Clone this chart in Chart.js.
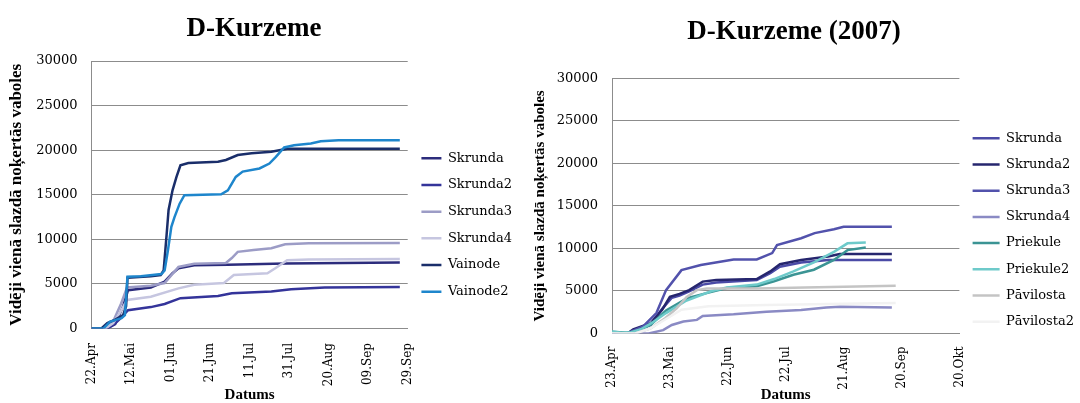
<!DOCTYPE html>
<html>
<head>
<meta charset="utf-8">
<script src="https://cdn.jsdelivr.net/npm/chart.js@4.4.1/dist/chart.umd.min.js"></script>
<style>
  body { margin: 0; background: #fff; }
  #wrap { position: relative; width: 1080px; height: 403px; overflow: hidden; }
  canvas { position: absolute; top: 0; }
  #leftChart { left: -14px; }
  #rightChart { left: 504px; }
</style>
</head>
<body>
<div id="wrap">
  <canvas id="leftChart" width="554" height="403"></canvas>
  <canvas id="rightChart" width="580" height="403"></canvas>
</div>
<script>
// x values are days from the first date on each axis, y = beetles per trap
const yTitle = "Vidēji vienā slazdā noķertās vaboles";

// left chart: D-Kurzeme (from 22.Apr)
const leftTickLabels = ["22.Apr", "12.Mai", "01.Jun", "21.Jun", "11.Jul", "31.Jul", "20.Aug", "09.Sep", "29.Sep"];
const leftNames = ["Skrunda", "Skrunda2", "Skrunda3", "Skrunda4", "Vainode", "Vainode2"];

const lSkrunda = [[0,0],[8,0],[12,500],[16,2500],[18.5,4300],[30,4600],[37,5250],[41,6200],[44,6750],[52,7100],[69,7150],[98,7300],[156,7400]];
const lSkrunda2 = [[0,0],[8,0],[12,600],[14,1000],[18.5,2050],[30,2400],[37,2750],[45,3400],[64,3650],[71,3950],[91,4150],[101,4400],[118,4600],[156,4650]];
const lSkrunda3 = [[0,0],[7,0],[11,800],[15,2800],[18,4600],[30,4800],[37,5100],[44,6900],[52,7250],[68,7350],[71,7900],[74,8600],[82,8800],[91,9000],[98,9450],[110,9550],[156,9600]];
const lSkrunda4 = [[0,0],[7,0],[11,600],[15,2000],[18,3200],[30,3570],[44,4500],[52,4900],[67,5100],[72,6000],[89,6200],[93,6750],[99,7650],[110,7750],[156,7800]];
const lVainode = [[0,0],[5,0],[8,600],[12,1000],[16,1500],[17.5,2500],[18.2,5700],[30,5850],[35,6000],[36.5,6500],[38,10500],[39,13300],[41,15500],[43,17000],[45,18300],[49,18550],[64,18700],[68,18900],[74,19450],[81,19650],[91,19820],[99,20150],[156,20150]];
const lVainode2 = [[0,0],[6,0],[9.3,750],[12.7,1000],[15.2,1150],[16.9,1500],[18.2,5800],[25,5850],[35.4,6100],[37,6500],[38.7,8800],[40.4,11400],[42,12500],[44.6,14000],[47,14950],[65.6,15050],[69,15500],[73,17000],[76.5,17600],[85,17950],[90,18500],[93.3,19250],[97.5,20300],[102.5,20550],[111,20750],[116,21000],[125,21100],[156,21100]];

// right chart: D-Kurzeme (2007) (from 23.Apr)
const rightTickLabels = ["23.Apr", "23.Mai", "22.Jun", "22.Jul", "21.Aug", "20.Sep", "20.Okt"];
const rightNames = ["Skrunda", "Skrunda2", "Skrunda3", "Skrunda4", "Priekule", "Priekule2", "Pāvilosta", "Pāvilosta2"];

const rSkrunda = [[0,0],[8,0],[11,300],[20,1000],[26,2900],[31,4200],[35,4450],[40,4950],[47,5750],[54,6000],[75,6300],[82,7100],[87,7850],[98,8350],[112,8650],[145,8650]];
const rSkrunda2 = [[0,0],[8,0],[11,500],[20,1200],[26,2800],[30,4300],[35,4650],[40,5100],[47,6100],[54,6300],[75,6400],[82,7300],[87,8150],[98,8650],[112,9050],[118,9350],[145,9350]];
const rSkrunda3 = [[0,0],[7.5,0],[16,800],[23,2400],[28,5100],[36,7450],[46,8050],[63,8700],[75,8700],[83,9450],[85.5,10400],[98,11200],[105,11800],[115,12250],[120,12550],[145,12550]];
const rSkrunda4 = [[0,0],[19,0],[26.5,400],[31,1000],[37,1400],[44,1600],[47,2050],[63,2250],[80,2550],[98,2750],[111,3050],[118,3150],[145,3050]];
const rPriekule = [[0,200],[4,150],[9,100],[14,400],[20,1000],[28,2700],[39,4150],[49,4750],[59.5,5350],[75,5550],[84,6150],[94,6900],[104.6,7500],[115,8650],[122,9800],[131.5,10100]];
const rPriekule2 = [[0,250],[5,100],[10,150],[15,500],[21,1300],[28,2400],[38,3800],[51.6,5000],[59.5,5400],[75,5750],[84,6400],[94,7300],[104.6,8350],[115,9600],[122,10600],[131.5,10700]];
const rPavilosta = [[0,0],[12,0],[20,600],[27.5,1800],[33.5,2950],[38.7,4300],[44,5100],[49,5300],[75,5300],[100,5400],[147,5600]];
const rPavilosta2 = [[0,0],[12,0],[20,600],[28,1700],[36,2800],[50,3200],[80,3350],[120,3500],[147,3600]];

const leftColors = ["#2c2c7c", "#34349a", "#9c9cc6", "#c6c6e0", "#1a2e6a", "#1e86cc"];
const rightColors = ["#4a4aa6", "#26266e", "#5252ac", "#8a8ac4", "#3b9494", "#6ecaca", "#c4c4c4", "#f2f2f2"];

const tickFont = "DejaVu Serif";
const titleFont = "Liberation Serif";
const gridColor = "#8c8c8c";

function buildChart(id, o) {
  const datasets = o.names.map((name, i) => ({
    label: name,
    data: o.series[i],
    borderColor: o.colors[i],
    backgroundColor: o.colors[i],
    borderWidth: 2.5,
    pointRadius: 0,
    tension: 0,
    order: o.names.length - i, // later series on top, like the original
  }));

  return new Chart(document.getElementById(id), {
    type: "line",
    data: { datasets },
    options: {
      responsive: false,
      animation: false,
      layout: { padding: { left: 0, right: o.padRight, top: 0, bottom: 0 } },
      plugins: {
        tooltip: { enabled: false },
        title: {
          display: true,
          text: o.title,
          color: "#000",
          font: { family: titleFont, size: 27, weight: "bold" },
          padding: { top: o.titleTop, bottom: o.titleBottom },
        },
        legend: {
          position: "right",
          align: "center",
          title: {
            display: true,
            text: " ",
            font: { size: 12 },
            padding: { top: o.legendShift, bottom: o.legendShift },
          },
          labels: {
            usePointStyle: true,
            pointStyle: "line",
            pointStyleWidth: o.boxWidth,
            padding: o.legendPad,
            color: "#000",
            font: { family: tickFont, size: 13 },
            sort: (a, b) => a.datasetIndex - b.datasetIndex,
          },
        },
      },
      scales: {
        x: {
          type: "linear",
          min: 0,
          max: o.xMax,
          afterFit: (s) => { s.height = o.xHeight; },
          ticks: {
            stepSize: o.xStep,
            autoSkip: false,
            minRotation: 90,
            maxRotation: 90,
            padding: o.xTickPad,
            color: "#000",
            font: { family: tickFont, size: 12 },
            callback: (v) => o.tickLabels[Math.round(v / o.xStep)],
          },
          grid: { drawOnChartArea: false, drawTicks: false },
          border: { display: true, color: gridColor, width: 1 },
          title: {
            display: true,
            text: "Datums",
            color: "#000",
            font: { family: titleFont, size: 15, weight: "bold", lineHeight: 1 },
            padding: { top: 0, bottom: 0 },
          },
        },
        y: {
          min: 0,
          max: 30000,
          afterFit: (s) => { s.width = o.yWidth; },
          ticks: {
            stepSize: 5000,
            padding: 14,
            color: "#000",
            font: { family: tickFont, size: 13 },
            callback: (v) => String(v),
          },
          grid: { color: gridColor, lineWidth: 1, drawTicks: false },
          border: { display: true, color: gridColor, width: 1 },
          title: {
            display: true,
            text: yTitle,
            color: "#000",
            font: { family: titleFont, size: o.yTitleSize, weight: "bold" },
            padding: { top: o.yTitlePad, bottom: 0 },
          },
        },
      },
    },
  });
}

buildChart("leftChart", {
  title: "D-Kurzeme",
  names: leftNames,
  colors: leftColors,
  series: [lSkrunda, lSkrunda2, lSkrunda3, lSkrunda4, lVainode, lVainode2],
  tickLabels: leftTickLabels,
  xMax: 160,
  xStep: 20,
  padRight: 18,
  titleTop: 12.5,
  titleBottom: 16.1,
  legendShift: 16.3,
  legendPad: 13.7,
  boxWidth: 20,
  xHeight: 74.5,
  xTickPad: 14.5,
  yWidth: 105.5,
  yTitleSize: 17,
  yTitlePad: 20,
});

buildChart("rightChart", {
  title: "D-Kurzeme (2007)",
  names: rightNames,
  colors: rightColors,
  series: [rSkrunda, rSkrunda2, rSkrunda3, rSkrunda4, rPriekule, rPriekule2, rPavilosta, rPavilosta2],
  tickLabels: rightTickLabels,
  xMax: 180,
  xStep: 30,
  padRight: 0,
  titleTop: 16.3,
  titleBottom: 29.6,
  legendShift: 21.3,
  legendPad: 13.2,
  boxWidth: 27,
  xHeight: 69.5,
  xTickPad: 13,
  yWidth: 108,
  yTitleSize: 15,
  yTitlePad: 27,
});
</script>
</body>
</html>
